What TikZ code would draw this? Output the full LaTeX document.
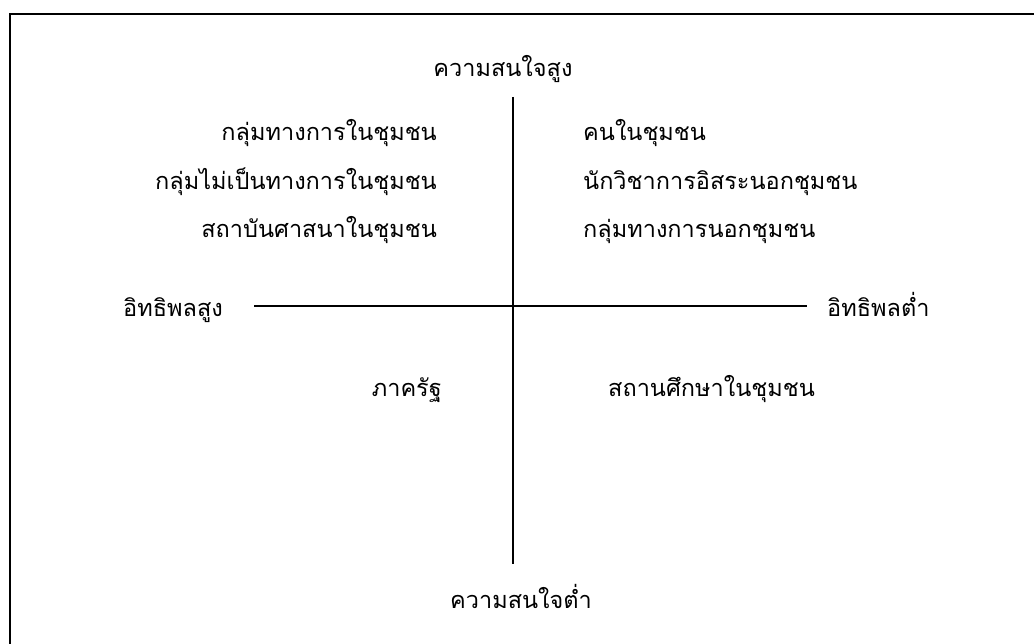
\documentclass[tikz,border=0pt]{standalone}
\usepackage{fontspec}
\newfontfamily\thaifont[Script=Thai]{Loma}
\begin{document}
\begin{tikzpicture}[x=1pt,y=-1pt,
  lbl/.style={font=\thaifont\fontsize{23.5}{28}\selectfont, inner sep=0pt},
  axis/.style={line width=2.2pt},
  frame/.style={line width=2.2pt}]
\useasboundingbox (0,0) rectangle (1034,644);
% frame (only top and left edges visible)
\draw[frame] (10,644) -- (10,14) -- (1034,14);
% axes
\coordinate (vt) at (513,97);
\coordinate (vb) at (513,564);
\coordinate (hl) at (254,306);
\coordinate (hr) at (807,306);
\draw[axis] (vt) -- (vb);
\draw[axis] (hl) -- (hr);
% axis labels
\node[lbl, anchor=base] (hi) at (503,77) {ความสนใจสูง};
\node[lbl, anchor=base] (lo) at (521,608) {ความสนใจต่ำ};
\node[lbl, anchor=base west] (infhi) at (123,317) {อิทธิพลสูง};
\node[lbl, anchor=base west] (inflo) at (827,317) {อิทธิพลต่ำ};
% upper left
\node[lbl, anchor=base east] (ul1) at (437,141) {กลุ่มทางการในชุมชน};
\node[lbl, anchor=base east] (ul2) at (437,190) {กลุ่มไม่เป็นทางการในชุมชน};
\node[lbl, anchor=base east] (ul3) at (437,238) {สถาบันศาสนาในชุมชน};
% upper right
\node[lbl, anchor=base west] (ur1) at (583,141) {คนในชุมชน};
\node[lbl, anchor=base west] (ur2) at (583,190) {นักวิชาการอิสระนอกชุมชน};
\node[lbl, anchor=base west] (ur3) at (583,238) {กลุ่มทางการนอกชุมชน};
% lower
\node[lbl, anchor=base east] (ll1) at (442,396) {ภาครัฐ};
\node[lbl, anchor=base west] (lr1) at (608,396) {สถานศึกษาในชุมชน};
\end{tikzpicture}
\end{document}
